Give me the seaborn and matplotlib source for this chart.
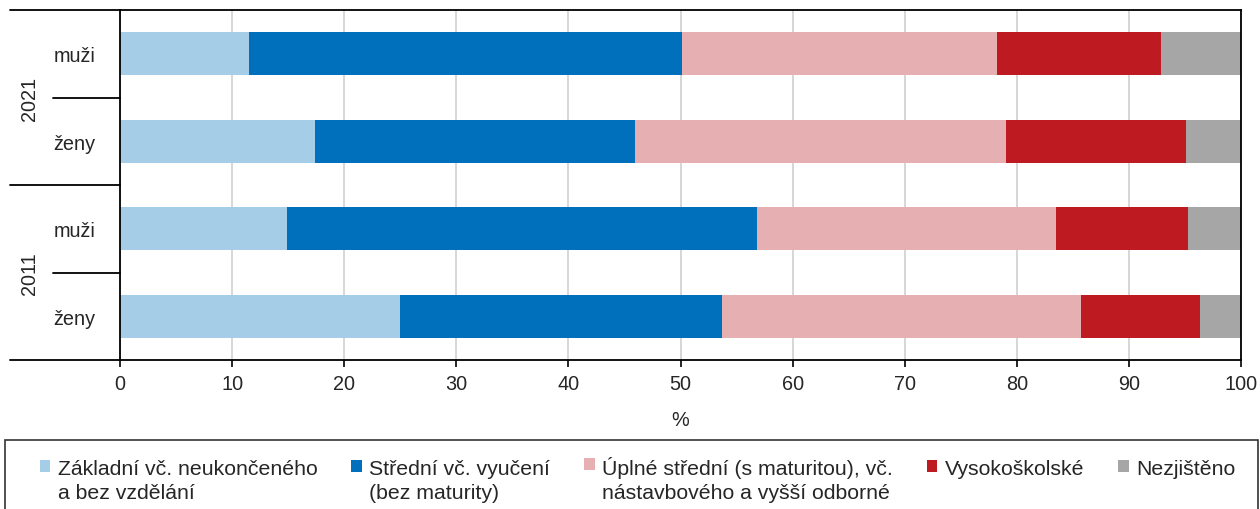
import matplotlib
matplotlib.use("Agg")
import matplotlib.pyplot as plt
import numpy as np
import pandas as pd
import seaborn as sns
from matplotlib.legend_handler import HandlerPatch
from matplotlib.patches import Patch, Rectangle

# data (shares in %)
years = ["2021", "2011"]
sexes = ["muži", "ženy"]
row_keys = ["2021 muži", "2021 ženy", "2011 muži", "2011 ženy"]
row_labels = ["muži", "ženy", "muži", "ženy"]

categories = [
    "Základní vč. neukončeného\na bez vzdělání",
    "Střední vč. vyučení\n(bez maturity)",
    "Úplné střední (s maturitou), vč.\nnástavbového a vyšší odborné",
    "Vysokoškolské",
    "Nezjištěno",
]
zakladni = [11.5, 17.4, 14.9, 25.0]
stredni = [38.6, 28.5, 41.9, 28.7]
uplne = [28.1, 33.1, 26.7, 32.0]
vysoke = [14.7, 16.1, 11.8, 10.6]
nezjisteno = [7.1, 4.9, 4.7, 3.7]

colors = ["#A6CDE7", "#0070BC", "#E6AFB2", "#BE1A22", "#A6A6A6"]

x_ticks = list(range(0, 101, 10))


def build_frame():
    df = pd.DataFrame(
        {
            "row": row_keys,
            categories[0]: zakladni,
            categories[1]: stredni,
            categories[2]: uplne,
            categories[3]: vysoke,
            categories[4]: nezjisteno,
        }
    )
    return df


def raised_square(legend, orig_handle, xdescent, ydescent, width, height, fontsize):
    # marker sits beside the first line of a two-line label
    return Rectangle((-xdescent, -ydescent + 0.68 * fontsize), width, height)


def make_chart(df, path="out.png"):
    sns.set_theme(style="white")
    plt.rcParams["font.family"] = ["Liberation Sans", "DejaVu Sans"]
    fs = 14.3
    fs_leg = 15.3

    fig = plt.figure(figsize=(12.6, 5.1), dpi=100)
    ax = fig.add_axes([120 / 1260, 1 - 361 / 510, 1121 / 1260, 350 / 510])

    # stacked bars: draw cumulative totals from the widest down
    cum = df[categories].cumsum(axis=1)
    for i in reversed(range(len(categories))):
        sns.barplot(
            x=cum[categories[i]],
            y=df["row"],
            order=row_keys,
            orient="h",
            color=colors[i],
            width=0.49,
            linewidth=0,
            saturation=1,
            ax=ax,
        )

    ax.set_xlim(0, 100)
    ax.set_ylim(3.5, -0.5)
    ax.set_xticks(x_ticks)
    ax.set_xticklabels([str(t) for t in x_ticks], fontsize=fs)
    ax.xaxis.grid(True, color="#D0D0D0", linewidth=1.2)
    ax.set_axisbelow(True)
    ax.tick_params(axis="x", length=5, width=1.2, color="black", pad=5, bottom=True)
    ax.set_xlabel("%", fontsize=fs, labelpad=12)

    ax.set_yticks(range(len(row_keys)))
    ax.set_yticklabels(row_labels, fontsize=fs, ha="center")
    ax.tick_params(axis="y", length=0, pad=33)
    ax.set_ylabel("")

    for s in ax.spines.values():
        s.set_visible(True)
        s.set_color("black")
        s.set_linewidth(1.3)

    # group separators and year labels in the left margin
    tr = ax.get_yaxis_transform()
    x_long = (10 - 120) / 1121
    x_short = (53 - 120) / 1121
    for y in [-0.5, 1.5, 3.5]:
        ax.plot([x_long, 0], [y, y], color="black", lw=1.3, transform=tr, clip_on=False)
    for y in [0.5, 2.5]:
        ax.plot([x_short, 0], [y, y], color="black", lw=1.3, transform=tr, clip_on=False)
    for i, year in enumerate(years):
        ax.text((30 - 120) / 1121, 2 * i + 0.5, year, transform=tr, rotation=90,
                ha="center", va="center", fontsize=fs)

    # legend box across the bottom
    fig.patches.append(
        Rectangle((5 / 1260, -0.01), 1253 / 1260, 1 - 441 / 510 + 0.01,
                  transform=fig.transFigure, fill=False, edgecolor="#333333", lw=1.2)
    )
    handles = [Patch(facecolor=c, edgecolor="none") for c in colors]
    labels = [c if "\n" in c else c + "\n " for c in categories]
    leg = fig.legend(
        handles, labels, loc="upper left", bbox_to_anchor=(29 / 1260, 1 - 446 / 510),
        ncol=5, frameon=False, fontsize=fs_leg, borderpad=0, handlelength=0.5,
        handleheight=0.5, handletextpad=0.35, columnspacing=1.59,
        handler_map={Patch: HandlerPatch(patch_func=raised_square)},
    )
    for t in leg.get_texts():
        t.set_linespacing(1.35)
    # line up the columns on their last text line
    leg._legend_handle_box.align = "bottom"

    fig.savefig(path, dpi=100)
    plt.close(fig)


def main():
    df = build_frame()
    make_chart(df)


if __name__ == "__main__":
    main()
